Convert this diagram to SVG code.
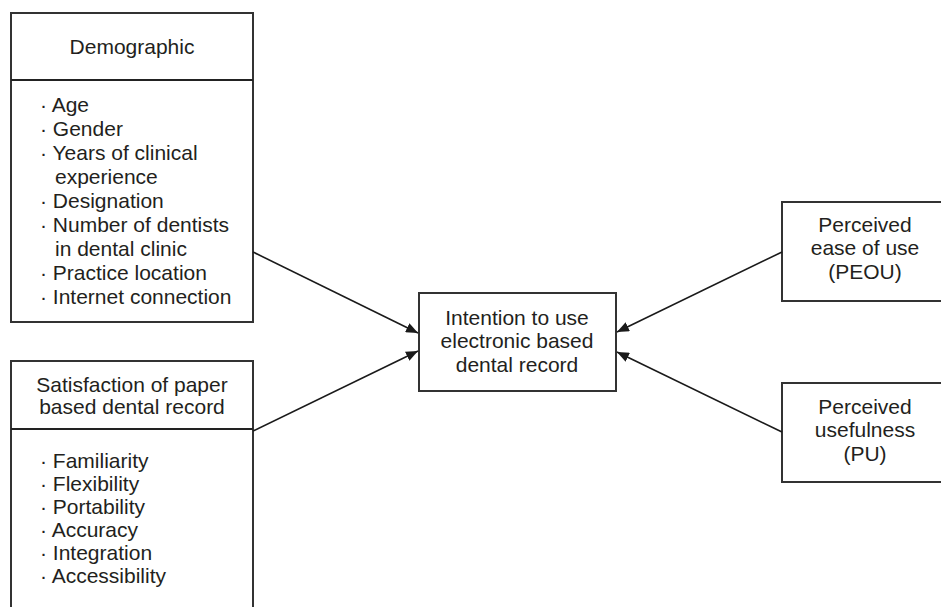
<svg xmlns="http://www.w3.org/2000/svg" width="941" height="607" viewBox="0 0 941 607">
<defs>
<marker id="arr" viewBox="0 0 12 10" refX="12" refY="5" markerWidth="12" markerHeight="10" markerUnits="userSpaceOnUse" orient="auto">
<path d="M0,0 L12,5 L0,10 Z" fill="#1a1a1a"/>
</marker>
<style>
.box{fill:#fff;stroke:#333;stroke-width:2}
.div{stroke:#222;stroke-width:2}
text{font-family:"Liberation Sans",Arial,sans-serif;font-size:21px;fill:#231f20}
.c{text-anchor:middle}
.conn{stroke:#1a1a1a;stroke-width:1.6;fill:none}
</style>
</defs>
<rect width="941" height="607" fill="#fff"/>
<g id="demographic">
<rect class="box" x="11" y="13" width="242" height="309"/>
<line class="div" x1="11" y1="80" x2="253" y2="80"/>
<text class="c" x="132" y="54">Demographic</text>
<text x="40" y="112">· Age</text>
<text x="40" y="136">· Gender</text>
<text x="40" y="160">· Years of clinical</text>
<text x="55" y="184">experience</text>
<text x="40" y="208">· Designation</text>
<text x="40" y="232">· Number of dentists</text>
<text x="55" y="256">in dental clinic</text>
<text x="40" y="280">· Practice location</text>
<text x="40" y="304">· Internet connection</text>
</g>
<g id="satisfaction">
<rect class="box" x="11" y="361" width="242" height="260"/>
<line class="div" x1="11" y1="429" x2="253" y2="429"/>
<text class="c" x="132" y="392">Satisfaction of paper</text>
<text class="c" x="132" y="414">based dental record</text>
<text x="40" y="468">· Familiarity</text>
<text x="40" y="491">· Flexibility</text>
<text x="40" y="514">· Portability</text>
<text x="40" y="537">· Accuracy</text>
<text x="40" y="560">· Integration</text>
<text x="40" y="583">· Accessibility</text>
</g>
<g id="intention">
<rect class="box" x="419" y="293" width="197" height="98"/>
<text class="c" x="517" y="325">Intention to use</text>
<text class="c" x="517" y="348">electronic based</text>
<text class="c" x="517" y="372">dental record</text>
</g>
<g id="peou">
<rect class="box" x="782" y="202" width="170" height="99"/>
<text class="c" x="865" y="232">Perceived</text>
<text class="c" x="865" y="255">ease of use</text>
<text class="c" x="865" y="279">(PEOU)</text>
</g>
<g id="pu">
<rect class="box" x="782" y="383" width="170" height="99"/>
<text class="c" x="865" y="414">Perceived</text>
<text class="c" x="865" y="437">usefulness</text>
<text class="c" x="865" y="461">(PU)</text>
</g>
<g id="connectors">
<line class="conn" x1="253" y1="252" x2="418" y2="333" marker-end="url(#arr)"/>
<line class="conn" x1="253" y1="431" x2="418" y2="351" marker-end="url(#arr)"/>
<line class="conn" x1="782" y1="252" x2="617" y2="332" marker-end="url(#arr)"/>
<line class="conn" x1="782" y1="432" x2="617" y2="352" marker-end="url(#arr)"/>
</g>
</svg>
